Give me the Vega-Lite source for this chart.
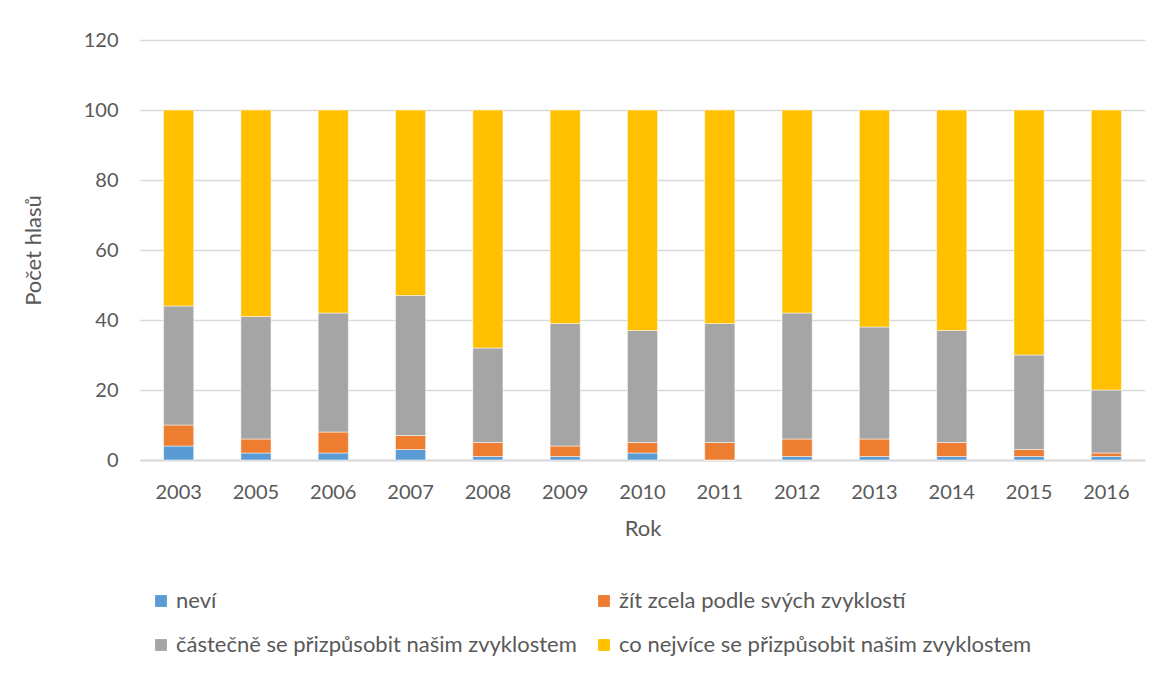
{
  "$schema": "https://vega.github.io/schema/vega-lite/v6.json",
  "width": 1005,
  "height": 420,
  "autosize": "none",
  "padding": {"left": 140, "top": 40, "right": 20, "bottom": 213},
  "background": "white",
  "config": {
    "font": "Lato",
    "view": {"stroke": null},
    "axis": {"labelColor": "#595959", "titleColor": "#595959", "labelFontSize": 20, "titleFontSize": 22, "titleFontWeight": "normal", "labelFont": "Lato", "titleFont": "Lato"}
  },
  "data": {
    "values": [
      {"rok": "2003", "k": "neví", "o": 1, "v": 4},
      {"rok": "2003", "k": "žít zcela podle svých zvyklostí", "o": 2, "v": 6},
      {"rok": "2003", "k": "částečně se přizpůsobit našim zvyklostem", "o": 3, "v": 34},
      {"rok": "2003", "k": "co nejvíce se přizpůsobit našim zvyklostem", "o": 4, "v": 56},
      {"rok": "2005", "k": "neví", "o": 1, "v": 2},
      {"rok": "2005", "k": "žít zcela podle svých zvyklostí", "o": 2, "v": 4},
      {"rok": "2005", "k": "částečně se přizpůsobit našim zvyklostem", "o": 3, "v": 35},
      {"rok": "2005", "k": "co nejvíce se přizpůsobit našim zvyklostem", "o": 4, "v": 59},
      {"rok": "2006", "k": "neví", "o": 1, "v": 2},
      {"rok": "2006", "k": "žít zcela podle svých zvyklostí", "o": 2, "v": 6},
      {"rok": "2006", "k": "částečně se přizpůsobit našim zvyklostem", "o": 3, "v": 34},
      {"rok": "2006", "k": "co nejvíce se přizpůsobit našim zvyklostem", "o": 4, "v": 58},
      {"rok": "2007", "k": "neví", "o": 1, "v": 3},
      {"rok": "2007", "k": "žít zcela podle svých zvyklostí", "o": 2, "v": 4},
      {"rok": "2007", "k": "částečně se přizpůsobit našim zvyklostem", "o": 3, "v": 40},
      {"rok": "2007", "k": "co nejvíce se přizpůsobit našim zvyklostem", "o": 4, "v": 53},
      {"rok": "2008", "k": "neví", "o": 1, "v": 1},
      {"rok": "2008", "k": "žít zcela podle svých zvyklostí", "o": 2, "v": 4},
      {"rok": "2008", "k": "částečně se přizpůsobit našim zvyklostem", "o": 3, "v": 27},
      {"rok": "2008", "k": "co nejvíce se přizpůsobit našim zvyklostem", "o": 4, "v": 68},
      {"rok": "2009", "k": "neví", "o": 1, "v": 1},
      {"rok": "2009", "k": "žít zcela podle svých zvyklostí", "o": 2, "v": 3},
      {"rok": "2009", "k": "částečně se přizpůsobit našim zvyklostem", "o": 3, "v": 35},
      {"rok": "2009", "k": "co nejvíce se přizpůsobit našim zvyklostem", "o": 4, "v": 61},
      {"rok": "2010", "k": "neví", "o": 1, "v": 2},
      {"rok": "2010", "k": "žít zcela podle svých zvyklostí", "o": 2, "v": 3},
      {"rok": "2010", "k": "částečně se přizpůsobit našim zvyklostem", "o": 3, "v": 32},
      {"rok": "2010", "k": "co nejvíce se přizpůsobit našim zvyklostem", "o": 4, "v": 63},
      {"rok": "2011", "k": "neví", "o": 1, "v": 0},
      {"rok": "2011", "k": "žít zcela podle svých zvyklostí", "o": 2, "v": 5},
      {"rok": "2011", "k": "částečně se přizpůsobit našim zvyklostem", "o": 3, "v": 34},
      {"rok": "2011", "k": "co nejvíce se přizpůsobit našim zvyklostem", "o": 4, "v": 61},
      {"rok": "2012", "k": "neví", "o": 1, "v": 1},
      {"rok": "2012", "k": "žít zcela podle svých zvyklostí", "o": 2, "v": 5},
      {"rok": "2012", "k": "částečně se přizpůsobit našim zvyklostem", "o": 3, "v": 36},
      {"rok": "2012", "k": "co nejvíce se přizpůsobit našim zvyklostem", "o": 4, "v": 58},
      {"rok": "2013", "k": "neví", "o": 1, "v": 1},
      {"rok": "2013", "k": "žít zcela podle svých zvyklostí", "o": 2, "v": 5},
      {"rok": "2013", "k": "částečně se přizpůsobit našim zvyklostem", "o": 3, "v": 32},
      {"rok": "2013", "k": "co nejvíce se přizpůsobit našim zvyklostem", "o": 4, "v": 62},
      {"rok": "2014", "k": "neví", "o": 1, "v": 1},
      {"rok": "2014", "k": "žít zcela podle svých zvyklostí", "o": 2, "v": 4},
      {"rok": "2014", "k": "částečně se přizpůsobit našim zvyklostem", "o": 3, "v": 32},
      {"rok": "2014", "k": "co nejvíce se přizpůsobit našim zvyklostem", "o": 4, "v": 63},
      {"rok": "2015", "k": "neví", "o": 1, "v": 1},
      {"rok": "2015", "k": "žít zcela podle svých zvyklostí", "o": 2, "v": 2},
      {"rok": "2015", "k": "částečně se přizpůsobit našim zvyklostem", "o": 3, "v": 27},
      {"rok": "2015", "k": "co nejvíce se přizpůsobit našim zvyklostem", "o": 4, "v": 70},
      {"rok": "2016", "k": "neví", "o": 1, "v": 1},
      {"rok": "2016", "k": "žít zcela podle svých zvyklostí", "o": 2, "v": 1},
      {"rok": "2016", "k": "částečně se přizpůsobit našim zvyklostem", "o": 3, "v": 18},
      {"rok": "2016", "k": "co nejvíce se přizpůsobit našim zvyklostem", "o": 4, "v": 80}
    ]
  },
  "mark": {"type": "bar", "stroke": "white", "strokeWidth": 0.5},
  "encoding": {
    "x": {
      "field": "rok", "type": "ordinal", "title": "Rok",
      "scale": {"paddingInner": 0.61, "paddingOuter": 0.305},
      "axis": {"labelAngle": 0, "ticks": false, "domainColor": "#d9d9d9", "domainWidth": 2, "labelPadding": 22, "titlePadding": 16}
    },
    "y": {
      "field": "v", "type": "quantitative", "stack": "zero", "title": "Počet hlasů",
      "scale": {"domain": [0, 120]},
      "axis": {"values": [0, 20, 40, 60, 80, 100, 120], "domain": false, "ticks": false, "gridColor": "#d9d9d9", "gridWidth": 1.5, "labelPadding": 22, "titlePadding": 38}
    },
    "color": {
      "field": "k", "type": "nominal",
      "scale": {
        "domain": ["neví", "žít zcela podle svých zvyklostí", "částečně se přizpůsobit našim zvyklostem", "co nejvíce se přizpůsobit našim zvyklostem"],
        "range": ["#5b9bd5", "#ed7d31", "#a5a5a5", "#ffc000"]
      },
      "legend": {
        "title": null, "orient": "none", "legendX": 10, "legendY": 550, "direction": "horizontal", "columns": 2,
        "gridAlign": "all", "columnPadding": 4, "rowPadding": 22,
        "symbolType": "square", "symbolSize": 140, "symbolStrokeWidth": 0,
        "labelFontSize": 22, "labelColor": "#595959", "labelLimit": 600, "labelOffset": 4
      }
    },
    "order": {"field": "o", "type": "quantitative"}
  }
}
